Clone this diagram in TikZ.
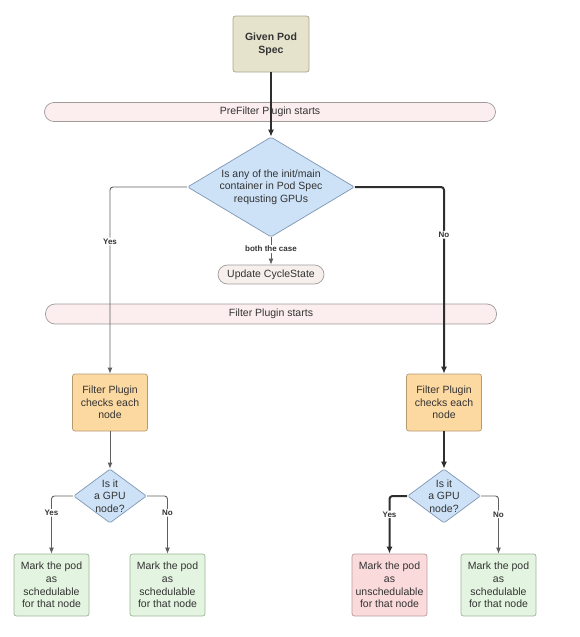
\documentclass[tikz,border=0pt]{standalone}
\usepackage{fontspec}
\setmainfont{Liberation Sans}
\usetikzlibrary{shapes.geometric,arrows.meta}
\definecolor{txt}{HTML}{333333}
\definecolor{beigef}{HTML}{E6E3CC}
\definecolor{beiged}{HTML}{A9A58E}
\definecolor{barf}{HTML}{FCEEEE}
\definecolor{bard}{HTML}{A09A9A}
\definecolor{pillf}{HTML}{F6EFEC}
\definecolor{bluef}{HTML}{CDE2F7}
\definecolor{blued}{HTML}{7E96B4}
\definecolor{orf}{HTML}{FDD9A2}
\definecolor{ord}{HTML}{B59A70}
\definecolor{grf}{HTML}{E3F5E0}
\definecolor{grd}{HTML}{9DB699}
\definecolor{pkf}{HTML}{FADADB}
\definecolor{pkd}{HTML}{B99C9C}
\definecolor{thinl}{HTML}{5F5F5F}
\definecolor{thickl}{HTML}{2E2E2E}
\begin{document}
\begin{tikzpicture}[x=1pt,y=-1pt,
  every node/.style={text=txt},
  mainfont/.style={font=\fontsize{10.5}{12.7}\selectfont},
  boxbase/.style={mainfont, align=center, inner sep=0pt, rounded corners=2.5pt, line width=0.7pt},
  given/.style={boxbase, font=\bfseries\fontsize{10.5}{12.7}\selectfont, fill=beigef, draw=beiged, minimum width=76pt, minimum height=56pt},
  bar/.style={boxbase, fill=barf, draw=bard, minimum width=451pt, minimum height=19pt, rounded corners=9.5pt},
  pill/.style={boxbase, fill=pillf, draw=bard, minimum width=106pt, minimum height=19pt, rounded corners=9.5pt},
  filt/.style={boxbase, fill=orf, draw=ord, minimum width=75pt, minimum height=57pt},
  markbox/.style={boxbase, fill=grf, draw=grd, minimum width=75pt, minimum height=62pt},
  unmarkbox/.style={boxbase, fill=pkf, draw=pkd, minimum width=75pt, minimum height=62pt},
  dia/.style={diamond, fill=bluef, draw=blued, line width=0.7pt, inner sep=0pt, rounded corners=1.5pt},
  dtext/.style={mainfont, align=center, inner sep=0pt, text=txt},
  lab/.style={fill=white, font=\bfseries\fontsize{8}{9.6}\selectfont, inner sep=1pt, text=txt},
  thinc/.style={draw=thinl, line width=0.9pt, rounded corners=3pt, -{Latex[length=6pt,width=5pt]}},
  thickc/.style={draw=thickl, line width=2pt, rounded corners=3pt, -{Latex[length=7pt,width=6pt]}}
]
\useasboundingbox (0,0) rectangle (579,637);

\node[given] (given) at (271,44) {Given Pod\\Spec};
\node[bar] (pre) at (270,112) {PreFilter Plugin starts};
\node[dia, minimum width=167pt, minimum height=100pt,
  label={[dtext]center:Is any of the init/main\\container in Pod Spec\\requsting GPUs}] (d1) at (271,187) {};
\node[pill] (upd) at (271,274.5) {Update CycleState};
\node[bar, minimum height=20pt] (fbar) at (271,314) {Filter Plugin starts};

\node[filt] (lf) at (110,402.5) {Filter Plugin\\checks each\\node};
\node[filt] (rf) at (444,402.5) {Filter Plugin\\checks each\\node};

\node[dia, minimum width=73pt, minimum height=54pt,
  label={[dtext]center:Is it\\a GPU\\node?}] (ld) at (110,496) {};
\node[dia, minimum width=73pt, minimum height=54pt,
  label={[dtext]center:Is it\\a GPU\\node?}] (rd) at (444,496) {};

\node[markbox] (ll) at (51.5,585) {Mark the pod\\as\\schedulable\\for that node};
\node[markbox] (lr) at (167.5,585) {Mark the pod\\as\\schedulable\\for that node};
\node[unmarkbox] (rl) at (389.5,585) {Mark the pod\\as\\unschedulable\\for that node};
\node[markbox] (rr) at (498.5,585) {Mark the pod\\as\\schedulable\\for that node};

\draw[thickc] (given) -- (d1);
\draw[thinc] (d1.west) -| node[lab,pos=0.646]{Yes} (lf.north);
\draw[thickc] (d1.east) -| node[lab,pos=0.628]{No} (rf.north);
\draw[thinc] (d1) -- node[lab,pos=0.43]{both the case} (upd);
\draw[thinc] (lf) -- (ld);
\draw[thickc] (rf) -- (rd);
\draw[thinc] (ld.west) -| node[lab,pos=0.647]{Yes} (ll.north);
\draw[thinc] (ld.east) -| node[lab,pos=0.647]{No} (lr.north);
\draw[thickc] (rd.west) -| node[lab,pos=0.66]{Yes} (rl.north);
\draw[thinc] (rd.east) -| node[lab,pos=0.66]{No} (rr.north);
\end{tikzpicture}
\end{document}
